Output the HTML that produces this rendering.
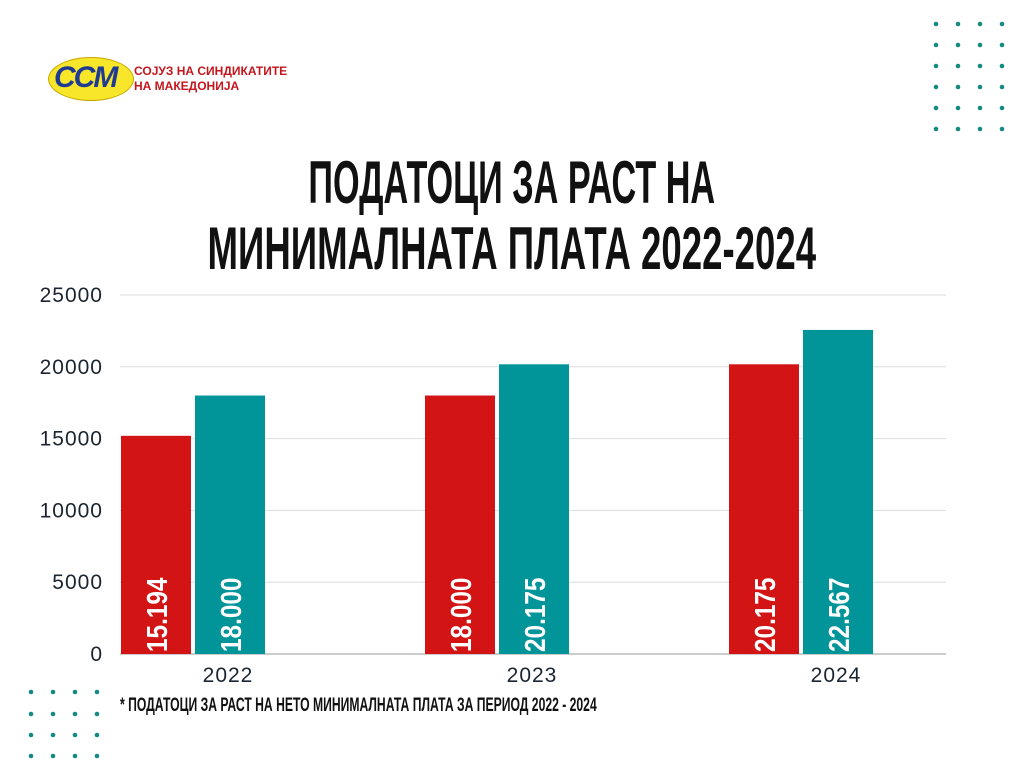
<!DOCTYPE html>
<html><head><meta charset="utf-8"><style>
body{margin:0;width:1024px;height:768px;background:#fff;overflow:hidden;font-family:"Liberation Sans",sans-serif;position:relative}
</style></head><body>
<div style="position:absolute;left:48px;top:55px;width:240px;height:46px">
 <div style="position:absolute;left:0;top:2px;width:84px;height:42px;border-radius:50%;background:#f7e62a;border:1px solid #c8a800"></div>
 <div style="position:absolute;left:6px;top:6px;font:italic 900 30px 'Liberation Sans',sans-serif;color:#1f3a93;letter-spacing:-2px">CCM</div>
 <div style="position:absolute;left:86px;top:9px;font:bold 12px 'Liberation Sans',sans-serif;color:#c4161c;line-height:15px">СОЈУЗ НА СИНДИКАТИТЕ<br>НА МАКЕДОНИЈА</div>
</div>
<div style="position:absolute;left:0;top:150px;width:1024px;text-align:center;font:bold 60px 'Liberation Sans Narrow','Liberation Sans',sans-serif;line-height:66px;color:#111">
<span style="display:inline-block;transform:scaleX(0.57)">ПОДАТОЦИ ЗА РАСТ НА</span><br><span style="display:inline-block;transform:scaleX(0.61);white-space:nowrap">МИНИМАЛНАТА ПЛАТА 2022-2024</span></div>
<svg id="chart" width="1024" height="768" style="position:absolute;left:0;top:0"></svg>
<div style="position:absolute;left:120px;top:695px;font:bold 19px 'Liberation Sans Narrow','Liberation Sans',sans-serif;color:#111;white-space:nowrap;transform:scaleX(0.64);transform-origin:left">* ПОДАТОЦИ ЗА РАСТ НА НЕТО МИНИМАЛНАТА ПЛАТА ЗА ПЕРИОД 2022 - 2024</div>
<script>
const categories=["2022","2023","2024"];
const seriesA=[15194,18000,20175];
const seriesB=[18000,20175,22567];
const labelsA=["15.194","18.000","20.175"];
const labelsB=["18.000","20.175","22.567"];
const yTicks=[0,5000,10000,15000,20000,25000];
const NS="http://www.w3.org/2000/svg";
const svg=document.getElementById('chart');
const x0=120,x1=946,y0=654,y1=295,yMax=25000,band=304;
const y=v=>y0-(v/yMax)*(y0-y1);
const bx=i=>x0+i*band;
function mk(t,a){const e=document.createElementNS(NS,t);for(const k in a)e.setAttribute(k,a[k]);svg.appendChild(e);return e;}
yTicks.forEach(t=>{
 const l=mk('line',{x1:x0,x2:x1,y1:y(t),y2:y(t),stroke:t===0?'#999':'#ddd','stroke-width':1});
 
 
 const tx=mk('text',{x:103,y:y(t)+7,'text-anchor':'end','font-size':21,'letter-spacing':1,fill:'#1b2430','font-family':'Liberation Sans, sans-serif'});
 tx.textContent=t;
 
 
});
function bar(xl,v,col,lab){
 const r=mk('rect',{x:xl,y:y(v),width:70,height:y0-y(v),fill:col});
 
 
 const cx=xl+35,by=y0-2;
 const t=mk('text',{x:0,y:0,'font-size':29,'font-weight':'bold',fill:'#fff','font-family':'Liberation Sans Narrow, Liberation Sans, sans-serif'});
 t.textContent=lab;
 t.setAttribute('transform',`translate(${cx+11},${by}) rotate(-90) scale(0.84,1)`);
 
 
}
categories.forEach((c,i)=>{
 bar(bx(i)+1,seriesA[i],'#d21414',labelsA[i]);
 bar(bx(i)+75,seriesB[i],'#01959a',labelsB[i]);
 const t=mk('text',{x:bx(i)+108,y:682,'text-anchor':'middle','font-size':21,'letter-spacing':1,fill:'#1b2430','font-family':'Liberation Sans, sans-serif'});
 t.textContent=c;
 
 
});
function dots(xs,ys){xs.forEach(a=>ys.forEach(b=>{const d=mk('circle',{cx:a,cy:b,r:2.3,fill:'#138a82'});
 
 }));}
dots([936,958,980,1002],[24,45,66,87,108,129]);
dots([31,53,75,97],[692,714,735,756]);
</script>
</body></html>
